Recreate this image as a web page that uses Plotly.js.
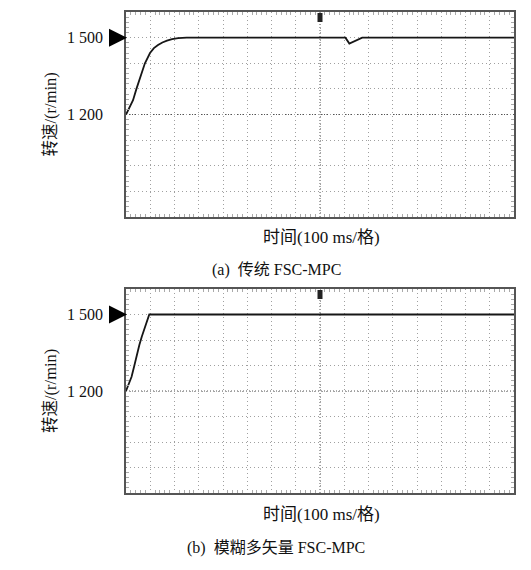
<!DOCTYPE html>
<html>
<head>
<meta charset="utf-8">
<script src="https://cdn.plot.ly/plotly-3.0.1.min.js"></script>
<style>html,body{margin:0;padding:0;background:#fff;}#chart{width:531px;height:570px;}</style>
</head>
<body>
<div id="chart"></div>
<script>
// ---- data (time in ms, speed in r/min) ----
const timeA  = [0, 15, 29, 43, 58, 78, 99, 115, 132, 150, 169, 190, 215, 250, 600, 905, 921, 974, 1600];
const speedA = [1200, 1226, 1256, 1300, 1347, 1400, 1440, 1459, 1471, 1481, 1488, 1494, 1498, 1500, 1500, 1500, 1477, 1500, 1500];
const timeB  = [0, 12, 23, 34, 44, 55, 65, 80, 96, 600, 1600];
const speedB = [1200, 1226, 1256, 1298, 1341, 1380, 1413, 1458, 1500, 1500, 1500];
const yTickVals   = [1500, 1200];
const yTickLabels = ['1 500', '1 200'];
const refLevel = 1500;
const triggerTime = 800;
const xTitle = '时间(100 ms/格)';
const yTitle = '转速/(r/min)';
const captions = ['(a)\u00a0\u00a0传统 FSC-MPC', '(b)\u00a0\u00a0模糊多矢量 FSC-MPC'];

const FONT = 'Liberation Serif, Times New Roman, Noto Sans CJK SC, serif';
const W = 531, H = 570;
const xDom = [126 / W, 514 / W];
const yDomA = [1 - 217 / H, 1 - 12 / H];
const yDomB = [1 - 493 / H, 1 - 289 / H];

function xaxisDef(anchor) {
  return {
    domain: xDom, anchor: anchor, range: [0, 1600], dtick: 100,
    showticklabels: false, ticks: '',
    showgrid: true, gridcolor: '#a0a0a0', gridwidth: 1, griddash: '1px,3px',
    zeroline: false,
    showline: true, linecolor: '#555', linewidth: 2, mirror: 'allticks',
    minor: {dtick: 20, ticks: 'inside', ticklen: 3, tickcolor: '#aaa', tickwidth: 1, showgrid: false},
    fixedrange: true
  };
}
function yaxisDef(anchor, dom) {
  return {
    domain: dom, anchor: anchor, range: [800, 1600], dtick: 100,
    showticklabels: false, ticks: '',
    showgrid: true, gridcolor: '#a0a0a0', gridwidth: 1, griddash: '1px,3px',
    zeroline: false,
    showline: true, linecolor: '#555', linewidth: 2, mirror: 'allticks',
    minor: {dtick: 20, ticks: 'inside', ticklen: 3, tickcolor: '#aaa', tickwidth: 1, showgrid: false},
    fixedrange: true
  };
}

const traces = [
  {x: timeA, y: speedA, xaxis: 'x', yaxis: 'y', mode: 'lines',
   line: {color: '#161616', width: 1.8}, hoverinfo: 'skip', showlegend: false},
  {x: timeB, y: speedB, xaxis: 'x2', yaxis: 'y2', mode: 'lines',
   line: {color: '#161616', width: 1.8}, hoverinfo: 'skip', showlegend: false}
];

const annotations = [];
const shapes = [];
const panels = [
  {xr: 'x', yr: 'y', dom: yDomA, title: xTitle, cap: captions[0], xTitleY: 238, capY: 270},
  {xr: 'x2', yr: 'y2', dom: yDomB, title: xTitle, cap: captions[1], xTitleY: 514, capY: 548}
];
panels.forEach(p => {
  yTickVals.forEach((v, i) => {
    annotations.push({xref: 'paper', yref: p.yr, x: 105 / W, y: v, xanchor: 'right', yanchor: 'middle',
      text: yTickLabels[i], showarrow: false, font: {family: FONT, size: 16, color: '#111'}});
  });
  annotations.push({xref: 'paper', yref: 'paper', x: 50 / W, y: (p.dom[0] + p.dom[1]) / 2,
    xanchor: 'center', yanchor: 'middle', textangle: -90, text: yTitle, showarrow: false,
    font: {family: FONT, size: 16.5, color: '#111'}});
  annotations.push({xref: 'paper', yref: 'paper', x: 321 / W, y: 1 - p.xTitleY / H,
    xanchor: 'center', yanchor: 'middle', text: p.title, showarrow: false,
    font: {family: FONT, size: 17, color: '#111'}});
  annotations.push({xref: 'paper', yref: 'paper', x: 276 / W, y: 1 - p.capY / H,
    xanchor: 'center', yanchor: 'middle', text: p.cap, showarrow: false,
    font: {family: FONT, size: 16, color: '#111'}});
  // center graticule lines
  shapes.push({type: 'line', xref: p.xr, yref: p.yr, x0: triggerTime, x1: triggerTime, y0: 800, y1: 1600,
    line: {color: '#555', width: 1, dash: '1px,2px'}, layer: 'below'});
  shapes.push({type: 'line', xref: p.xr, yref: p.yr, x0: 0, x1: 1600, y0: 1200, y1: 1200,
    line: {color: '#555', width: 1, dash: '1px,2px'}, layer: 'below'});
  // reference level marker (triangle)
  shapes.push({type: 'path', xref: 'paper', yref: p.yr, xsizemode: 'pixel', ysizemode: 'pixel',
    xanchor: 127 / W, yanchor: refLevel,
    path: 'M -18 -9 L 0 0 L -18 9 Z', fillcolor: '#000', line: {width: 0}});
  // trigger marker
  shapes.push({type: 'rect', xref: p.xr, yref: p.yr, xsizemode: 'pixel', ysizemode: 'pixel',
    xanchor: triggerTime, yanchor: 1600, x0: -2.5, x1: 2.5, y0: -10, y1: -1,
    fillcolor: '#222', line: {width: 0}});
});

const layout = {
  width: W, height: H, margin: {l: 0, r: 0, t: 0, b: 0},
  paper_bgcolor: '#fff', plot_bgcolor: '#fff',
  showlegend: false,
  xaxis: xaxisDef('y'), yaxis: yaxisDef('x', yDomA),
  xaxis2: xaxisDef('y2'), yaxis2: yaxisDef('x2', yDomB),
  annotations: annotations, shapes: shapes
};
Plotly.newPlot('chart', traces, layout, {staticPlot: true, displayModeBar: false});
</script>
</body>
</html>
